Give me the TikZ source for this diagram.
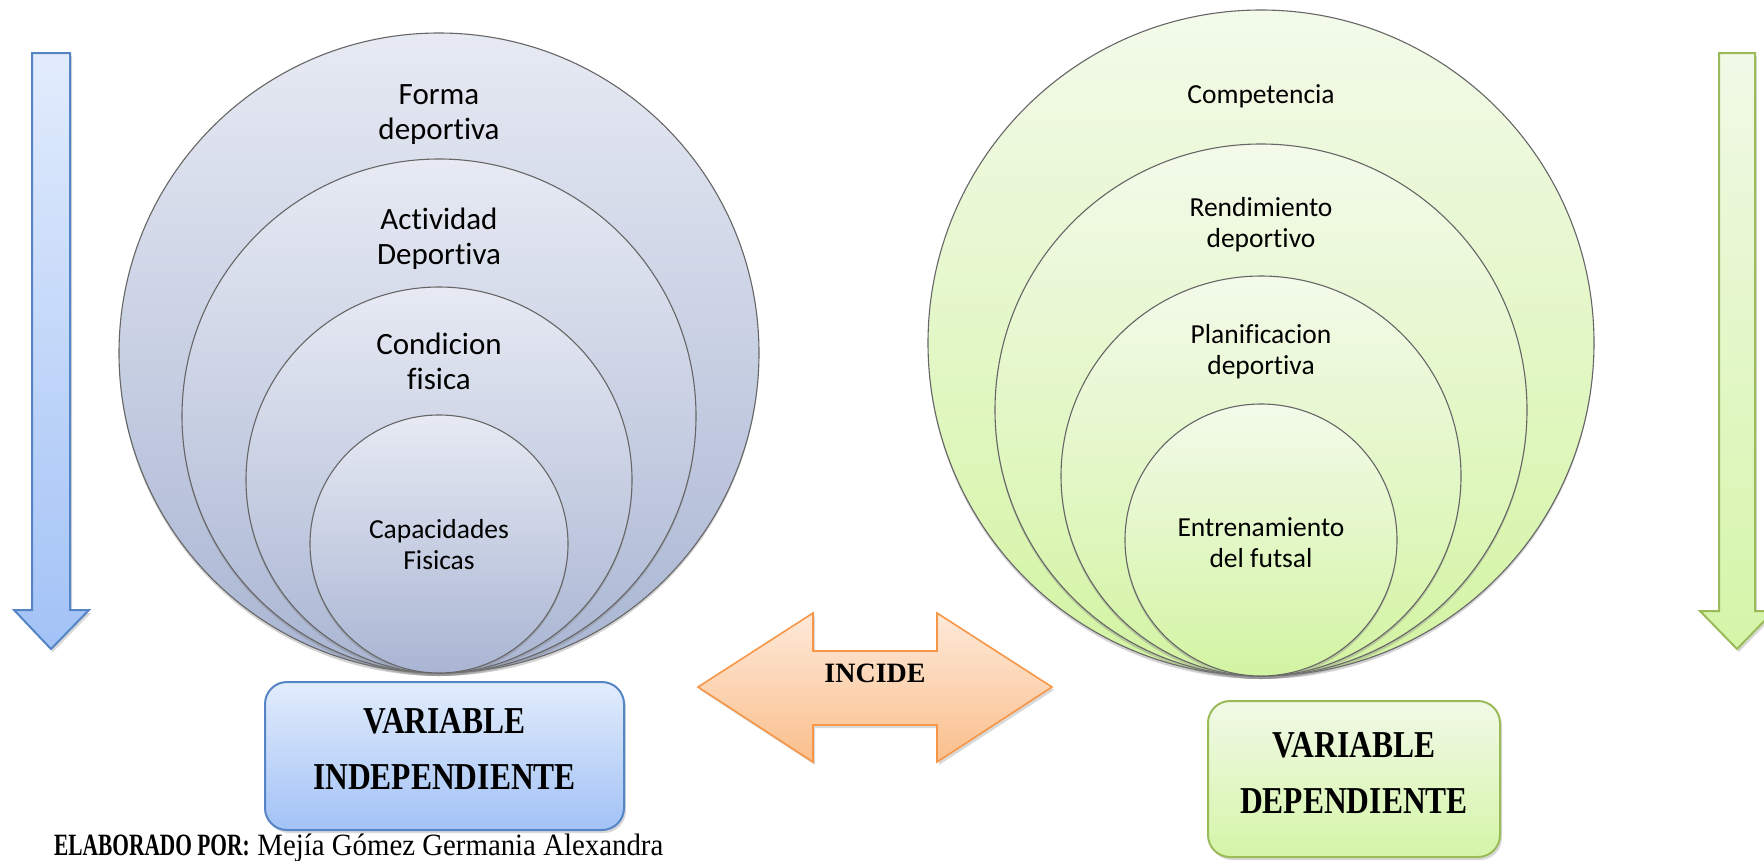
\documentclass[tikz,border=0pt]{standalone}
\usepackage{graphicx}
\usepackage{fontspec}
\setmainfont{Liberation Serif}
\newfontfamily\calibri[Ligatures=NoCommon]{Carlito}
\usetikzlibrary{shadows}

% narrow lettering for the bold captions
\newcommand{\narrowtxt}[2]{\scalebox{#1}[1]{#2}}

% palette
\definecolor{indepTop}{HTML}{E7EAF3}
\definecolor{indepBot}{HTML}{A9B5D3}
\definecolor{depTop}{HTML}{F3FAEA}
\definecolor{depBot}{HTML}{D3F4A2}
\definecolor{blueLine}{HTML}{5585C5}
\definecolor{blueTop}{HTML}{E2ECFC}
\definecolor{blueBot}{HTML}{A2C2F6}
\definecolor{greenLine}{HTML}{9BBB59}
\definecolor{greenTop}{HTML}{F1F9E7}
\definecolor{greenBot}{HTML}{D5F5A8}
\definecolor{orangeLine}{HTML}{F79646}
\definecolor{orangeTop}{HTML}{FDE9D9}
\definecolor{orangeBot}{HTML}{FBBF8C}

\begin{document}
\begin{tikzpicture}[x=1pt, y=-1pt,
    ring/.style={draw=black!60, line width=1.1pt, circle, inner sep=0pt,
        drop shadow={shadow xshift=0pt, shadow yshift=-3pt, opacity=0.35}},
    indepring/.style={ring, top color=indepTop, bottom color=indepBot},
    depring/.style={ring, top color=depTop, bottom color=depBot},
    bigtext/.style={align=center, font=\calibri\fontsize{31}{35}\selectfont},
    ringtext/.style={align=center, font=\calibri\fontsize{27.5}{31}\selectfont},
    varbox/.style={rectangle, rounded corners=22pt, line width=2pt,
        drop shadow={shadow xshift=2pt, shadow yshift=-3pt, opacity=0.3}},
    vartext/.style={align=center, font=\bfseries\fontsize{38}{56}\selectfont},
    bigarrow/.style={line width=2pt, line join=miter,
        drop shadow={shadow xshift=2pt, shadow yshift=-3pt, opacity=0.3}}
]
    \useasboundingbox (0,0) rectangle (1764,860);

    % Side arrows
    \draw[bigarrow, draw=blueLine, top color=blueTop, bottom color=blueBot]
        (32,53) -- (70,53) -- (70,610) -- (89,610) -- (51,649) -- (14,610) -- (32,610) -- cycle;
    \draw[bigarrow, draw=greenLine, top color=greenTop, bottom color=greenBot]
        (1719,53) -- (1755,53) -- (1755,611) -- (1774,611) -- (1737,649) -- (1700,611) -- (1719,611) -- cycle;

    % Independent variable rings
    \node (ind1) [indepring, minimum size=640pt] at (439,353) {};
    \node (ind2) [indepring, minimum size=514pt] at (439,416) {};
    \node (ind3) [indepring, minimum size=386pt] at (439,480) {};
    \node (ind4) [indepring, minimum size=258pt] at (439,544) {};

    \node (forma) [bigtext] at (439,115) {Forma\\deportiva};
    \node (actividad) [bigtext] at (439,239) {Actividad\\Deportiva};
    \node (condicion) [bigtext] at (439,361) {Condicion\\fisica};
    \node (capacidades) [ringtext] at (439,545) {Capacidades\\Fisicas};

    % Dependent variable rings
    \node (dep1) [depring, minimum size=666pt] at (1261,343) {};
    \node (dep2) [depring, minimum size=532pt] at (1261,410) {};
    \node (dep3) [depring, minimum size=400pt] at (1261,476) {};
    \node (dep4) [depring, minimum size=272pt] at (1261,540) {};

    \node (competencia) [ringtext] at (1261,96) {Competencia};
    \node (rendimiento) [ringtext] at (1261,225) {Rendimiento\\deportivo};
    \node (planificacion) [ringtext] at (1261,352) {Planificacion\\deportiva};
    \node (entrenamiento) [ringtext] at (1261,543) {Entrenamiento\\del futsal};

    % Variable boxes
    \node (indep) [varbox, draw=blueLine, top color=blueTop, bottom color=blueBot,
        minimum width=359pt, minimum height=148pt] at (444.5,756) {};
    \node (indepTxt) [vartext] at ([yshift=7pt]indep.center)
        {\narrowtxt{0.83}{VARIABLE}\\\narrowtxt{0.83}{INDEPENDIENTE}};

    \node (dep) [varbox, draw=greenLine, top color=greenTop, bottom color=greenBot,
        minimum width=292pt, minimum height=156pt] at (1354,779) {};
    \node (depTxt) [vartext] at ([yshift=6pt]dep.center)
        {\narrowtxt{0.83}{VARIABLE}\\\narrowtxt{0.83}{DEPENDIENTE}};

    % Double arrow between both sides
    \draw[bigarrow, line width=1.6pt, draw=orangeLine, top color=orangeTop, bottom color=orangeBot]
        (698,687) -- (813,613) -- (813,651) -- (937,651) -- (937,613) -- (1052,687)
        -- (937,762) -- (937,725) -- (813,725) -- (813,762) -- cycle;
    \node (incide) [font=\bfseries\fontsize{28}{32}\selectfont] at (875,673) {INCIDE};

    % Credit line
    \node (credit) [anchor=base west, inner sep=0pt, font=\fontsize{31}{34}\selectfont]
        at (54,855) {\narrowtxt{0.69}{\textbf{ELABORADO POR:}} \narrowtxt{0.93}{Mejía Gómez Germania Alexandra}};
\end{tikzpicture}
\end{document}
